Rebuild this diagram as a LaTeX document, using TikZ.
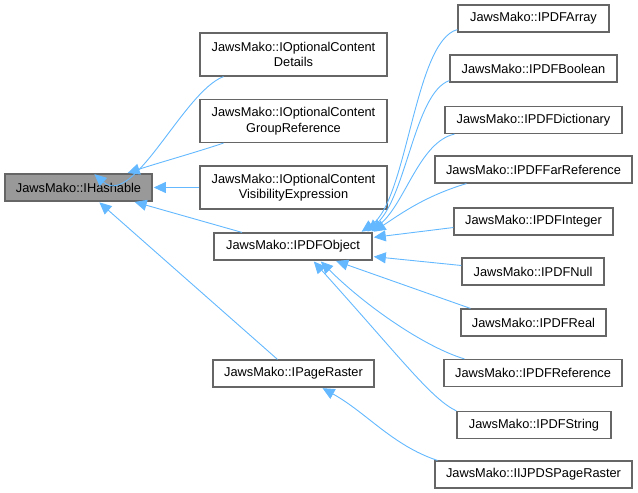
\documentclass[tikz,border=0pt]{standalone}
\usepackage{fontspec}
\setmainfont{Liberation Sans}
\usetikzlibrary{arrows.meta}
\definecolor{edgeblue}{HTML}{63B8FF}
\definecolor{boxgray}{HTML}{666666}
\definecolor{rootgray}{HTML}{999999}

\begin{document}
\begin{tikzpicture}[x=1pt, y=-1pt,
      box/.style={draw=boxgray, line width=1.2pt, fill=white, minimum height=27pt, inner sep=0pt,
                  align=center, font=\fontsize{12.8}{15.5}\selectfont},
      root/.style={box, fill=rootgray},
      twoline/.style={box, minimum height=43pt, minimum width=187pt},
      arrow/.style={-{Triangle[length=12pt,width=11pt]}, color=edgeblue, line width=0.9pt, shorten >=1.2pt},
    ]
    \useasboundingbox (0,0) rectangle (638,493);

    % Base class
    \node[root, minimum width=147pt] (hash) at (78.5,187.5) {JawsMako::IHashable};

    % Optional content
    \node[twoline] (ocd) at (293.5,54.5) {JawsMako::IOptionalContent\\Details};
    \node[twoline] (ocg) at (293.5,121) {JawsMako::IOptionalContent\\GroupReference};
    \node[twoline] (ocv) at (293.5,187.5) {JawsMako::IOptionalContent\\VisibilityExpression};

    % PDF object and page raster
    \node[box, minimum width=158pt] (pdfobj) at (293,246.5) {JawsMako::IPDFObject};
    \node[box, minimum width=161pt] (praster) at (293.5,373.5) {JawsMako::IPageRaster};

    % PDF object types
    \node[box, minimum width=151pt] (arr) at (533.5,18.5) {JawsMako::IPDFArray};
    \node[box, minimum width=167pt] (bool) at (533.5,68.5) {JawsMako::IPDFBoolean};
    \node[box, minimum width=177pt] (dict) at (533.5,120) {JawsMako::IPDFDictionary};
    \node[box, minimum width=197pt] (far) at (533.5,169.5) {JawsMako::IPDFFarReference};
    \node[box, minimum width=159pt] (int) at (533.5,221.5) {JawsMako::IPDFInteger};
    \node[box, minimum width=142pt] (null) at (533,271.5) {JawsMako::IPDFNull};
    \node[box, minimum width=145pt] (real) at (533.5,322.5) {JawsMako::IPDFReal};
    \node[box, minimum width=178pt] (ref) at (533,373) {JawsMako::IPDFReference};
    \node[box, minimum width=154pt] (str) at (534,425) {JawsMako::IPDFString};

    % Raster
    \node[box, minimum width=197pt] (ijpds) at (533.5,474.5) {JawsMako::IIJPDSPageRaster};

    % Arrows to IHashable
    \draw[arrow] ([xshift=-70pt]ocd.south) .. controls +(-40,15) and +(40,35) .. ([xshift=15pt]hash.north);
    \draw[arrow] ([xshift=-70pt]ocg.south) .. controls +(-30,10) and +(30,-10) .. ([xshift=48pt]hash.north);
    \draw[arrow] (ocv.west) -- (hash.east);
    \draw[arrow] ([xshift=-51pt]pdfobj.north) -- ([xshift=55pt]hash.south);
    \draw[arrow] ([xshift=-16pt]praster.north) -- ([xshift=20pt]hash.south);

    % Arrows to IPDFObject
    \draw[arrow] ([yshift=3pt]arr.south west) .. controls +(-43,11) and +(47,-32) .. ([xshift=-12pt]pdfobj.north east);
    \draw[arrow] ([yshift=2pt]bool.south west) .. controls +(-35,12) and +(40,-35) .. ([xshift=-6pt]pdfobj.north east);
    \draw[arrow] ([xshift=10pt]dict.south west) .. controls +(-35,8) and +(35,-30) .. ([xshift=-2pt]pdfobj.north east);
    \draw[arrow] ([xshift=32pt]far.south west) .. controls +(-40,12) and +(30,-20) .. (pdfobj.north east);
    \draw[arrow] ([yshift=-6pt]int.west) -- ([yshift=9pt]pdfobj.east);
    \draw[arrow] ([yshift=6pt]null.west) -- ([yshift=-10pt]pdfobj.east);
    \draw[arrow] ([xshift=10pt]real.north west) -- ([xshift=42pt]pdfobj.south);
    \draw[arrow] ([xshift=21pt]ref.north west) .. controls +(-40,-12) and +(45,45) .. ([xshift=27pt]pdfobj.south);
    \draw[arrow] (str.north west) .. controls +(-25,-12) and +(90,100) .. ([xshift=20pt]pdfobj.south);

    % Arrow to IPageRaster
    \draw[arrow] ([xshift=3pt]ijpds.north west) .. controls +(-45,-15) and +(45,25) .. ([xshift=28pt]praster.south);

  \end{tikzpicture}
\end{document}
